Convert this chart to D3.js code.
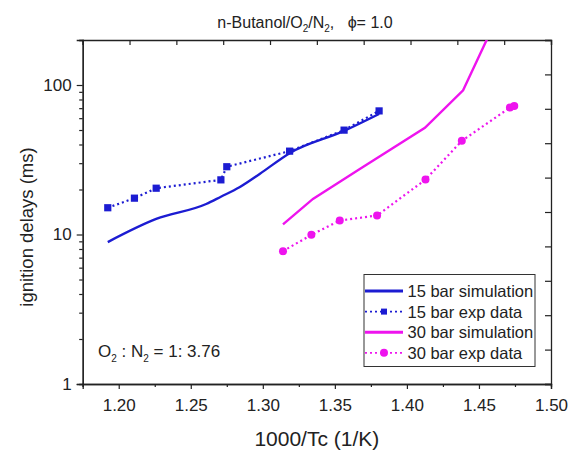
<!DOCTYPE html>
<html><head><meta charset="utf-8">
<script src="https://cdn.jsdelivr.net/npm/d3@7/dist/d3.min.js"></script>
<style>
body{margin:0;background:#fff;}
text{font-family:"Liberation Sans",Arial,sans-serif;fill:#222;}
</style></head>
<body><svg id="c" width="569" height="450"></svg>
<script>
const sim15X = [1.1924, 1.226, 1.2607, 1.2709, 1.2838, 1.2978, 1.3186, 1.3564, 1.3807];
const sim15Y = [8.9, 12.7, 16.0, 17.9, 20.7, 25.4, 35.0, 49.3, 64];
const exp15X = [1.1924, 1.2109, 1.226, 1.2709, 1.275, 1.3186, 1.3564, 1.3807];
const exp15Y = [15.1, 17.5, 20.4, 23.2, 28.4, 36.1, 49.9, 67.1];
const sim30X = [1.314, 1.3348, 1.3673, 1.4125, 1.439, 1.4715];
const sim30Y = [11.7, 17.3, 27.4, 51.7, 92.2, 430];
const exp30X = [1.314, 1.3337, 1.3534, 1.3793, 1.4129, 1.4381, 1.4715, 1.4745];
const exp30Y = [7.74, 9.95, 12.4, 13.4, 23.3, 42.3, 70.6, 72.4];
const xTicks = [1.20, 1.25, 1.30, 1.35, 1.40, 1.45, 1.50];
const xMinor = [1.175, 1.225, 1.275, 1.325, 1.375, 1.425, 1.475];
const yTicks = [1, 10, 100];
const legendLabels = ["15 bar simulation", "15 bar exp data", "30 bar simulation", "30 bar exp data"];

const BLUE = "#1c1cd2", MAG = "#ee14ee";
const L = 82.7, R = 551, T = 40, B = 384;
const svg = d3.select("#c");
const x = d3.scaleLinear().domain([1.175, 1.5]).range([L, R]);
const y = d3.scaleLog().domain([1, 200]).range([B, T]);

svg.append("defs").append("clipPath").attr("id","clip")
  .append("rect").attr("x",L).attr("y",T).attr("width",R-L).attr("height",B-T);

// axes
const minorY = [];
[1,10,100].forEach(d => { for (let k=2;k<=9;k++){ const v=d*k; if (v<=200) minorY.push(v);} });

svg.append("g").attr("transform",`translate(0,${B})`)
  .call(d3.axisBottom(x).tickValues(xTicks).tickFormat(d3.format(".2f")).tickSize(5).tickPadding(9.5));
svg.append("g").attr("transform",`translate(0,${B})`)
  .call(d3.axisBottom(x).tickValues(xMinor).tickFormat("").tickSize(3));
svg.append("g").attr("transform",`translate(${L},0)`)
  .call(d3.axisLeft(y).tickValues(yTicks).tickFormat(d3.format("d")).tickSize(6).tickPadding(5));
svg.append("g").attr("transform",`translate(${L},0)`)
  .call(d3.axisLeft(y).tickValues(minorY).tickFormat("").tickSize(3.5));
const div = d3.scaleLinear().domain([0,10]);
svg.append("g").attr("transform",`translate(${R},0)`)
  .call(d3.axisLeft(div.copy().range([B,T])).ticks(10).tickFormat("").tickSize(6));
svg.append("g").attr("transform",`translate(0,${T})`)
  .call(d3.axisBottom(div.copy().range([L,R])).ticks(10).tickFormat("").tickSize(5));
svg.selectAll(".domain").attr("stroke","#222").attr("stroke-width",1.3);
svg.selectAll(".tick line").attr("stroke","#222").attr("stroke-width",1.2);
svg.selectAll(".tick text").style("font-size","17px").attr("fill","#222");

// data
const plot = svg.append("g").attr("clip-path","url(#clip)");
const line = d3.line().x(d=>x(d[0])).y(d=>y(d[1]));
const zip = (a,b) => a.map((v,i)=>[v,b[i]]);
const s15 = zip(sim15X, sim15Y), e15 = zip(exp15X, exp15Y), s30 = zip(sim30X, sim30Y), e30 = zip(exp30X, exp30Y);

plot.append("path").datum(s15).attr("d", line.curve(d3.curveMonotoneX)).attr("fill","none").attr("stroke",BLUE).attr("stroke-width",2.4);
line.curve(d3.curveLinear);
plot.append("path").datum(s30).attr("d", line).attr("fill","none").attr("stroke",MAG).attr("stroke-width",2.4);
plot.append("path").datum(e15).attr("d", line).attr("fill","none").attr("stroke",BLUE).attr("stroke-width",2.2).attr("stroke-dasharray","2,3");
plot.append("path").datum(e30).attr("d", line).attr("fill","none").attr("stroke",MAG).attr("stroke-width",2.2).attr("stroke-dasharray","2,3");
plot.selectAll(".sq").data(e15).join("rect").attr("x",d=>x(d[0])-3.6).attr("y",d=>y(d[1])-3.6)
  .attr("width",7.2).attr("height",7.2).attr("fill",BLUE);
plot.selectAll(".ci").data(e30).join("circle").attr("cx",d=>x(d[0])).attr("cy",d=>y(d[1])).attr("r",4).attr("fill",MAG);

// title
const title = svg.append("text").attr("x",305).attr("y",28).attr("text-anchor","middle").style("font-size","16px");
title.append("tspan").text("n-Butanol/O");
title.append("tspan").text("2").style("font-size","10px").attr("dy",4);
title.append("tspan").text("/N").attr("dy",-4);
title.append("tspan").text("2").style("font-size","10px").attr("dy",4);
title.append("tspan").text(",\u00a0\u00a0 \u03d5= 1.0").attr("dy",-4);

// axis titles
svg.append("text").attr("x",(L+R)/2).attr("y",446).attr("text-anchor","middle").style("font-size","21px").text("1000/Tc (1/K)");
svg.append("text").attr("transform","translate(33,227) rotate(-90)").attr("text-anchor","middle").style("font-size","18.5px").text("ignition delays (ms)");

// annotation
const ann = svg.append("text").attr("x",98).attr("y",357).style("font-size","17px");
ann.append("tspan").text("O");
ann.append("tspan").text("2").style("font-size","10px").attr("dy",5);
ann.append("tspan").text(" : N").attr("dy",-5);
ann.append("tspan").text("2").style("font-size","10px").attr("dy",5);
ann.append("tspan").text(" = 1: 3.76").attr("dy",-5);

// legend
const lg = svg.append("g");
lg.append("rect").attr("x",364).attr("y",274.5).attr("width",171).attr("height",92).attr("fill","#fff").attr("stroke","#333").attr("stroke-width",1);
const styles = [
  {c:BLUE, dash:null, m:null},
  {c:BLUE, dash:"2,3", m:"sq"},
  {c:MAG, dash:null, m:null},
  {c:MAG, dash:"2,3", m:"ci"}
];
legendLabels.forEach((lab,i)=>{
  const cy = 291 + i*20.6;
  const s = styles[i];
  lg.append("line").attr("x1",365).attr("x2",403).attr("y1",cy).attr("y2",cy)
    .attr("stroke",s.c).attr("stroke-width",s.dash?1.8:3).attr("stroke-dasharray",s.dash);
  if (s.m==="sq") lg.append("rect").attr("x",381).attr("y",cy-3).attr("width",6).attr("height",6).attr("fill",s.c);
  if (s.m==="ci") lg.append("circle").attr("cx",384).attr("cy",cy).attr("r",4).attr("fill",s.c);
  lg.append("text").attr("x",407.5).attr("y",cy+6).style("font-size","16.5px").text(lab);
});
</script></body></html>
